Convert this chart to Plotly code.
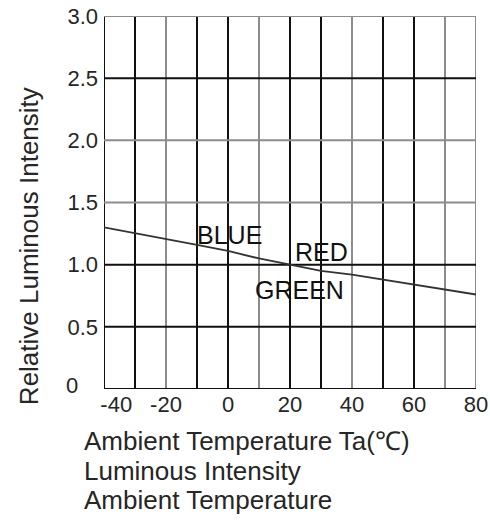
import plotly.graph_objects as go

# Data
temps = [-40, -30, -20, -10, 0, 10, 20, 30, 40, 50, 60, 70, 80]
rel_intensity = [1.30, 1.255, 1.21, 1.16, 1.11, 1.05, 1.00, 0.95, 0.92, 0.88, 0.84, 0.80, 0.76]

x_ticks = [-40, -20, 0, 20, 40, 60, 80]
x_tick_text = ["\u00a0\u00a0\u00a0\u00a0-40", "-20", "0", "20", "40", "60", "80"]
y_ticks = [0.5, 1.0, 1.5, 2.0, 2.5, 3.0]
y_tick_text = ["0.5", "1.0", "1.5", "2.0", "2.5", "3.0"]
y_zero_label = "0"

x_grid_dark = [-40, -30, -10, 0, 20, 30, 50, 60]
x_grid_light = [-20, 10, 40, 70, 80]
y_grid_dark = [0, 0.5, 1.0, 2.5]
y_grid_light = [1.5, 2.0, 3.0]

series_labels = ["BLUE", "RED", "GREEN"]
label_x = [0.6, 30.3, 23.2]
label_y = [1.24, 1.10, 0.80]

caption_lines = ["Ambient Temperature Ta(℃)", "Luminous Intensity", "Ambient Temperature"]

FONT = "Liberation Sans, Arial, sans-serif"
TXT = "#262626"

fig = go.Figure()
fig.add_trace(go.Scatter(x=temps, y=rel_intensity, mode="lines",
                         line=dict(color="#333333", width=1.8),
                         showlegend=False, hoverinfo="skip"))

shapes = []
for gx in x_grid_dark:
    shapes.append(dict(type="line", xref="x", yref="y", x0=gx, x1=gx, y0=0, y1=3,
                       line=dict(color="#111111", width=2), layer="below"))
for gx in x_grid_light:
    shapes.append(dict(type="line", xref="x", yref="y", x0=gx, x1=gx, y0=0, y1=3,
                       line=dict(color="#8c8c8c", width=2), layer="below"))
for gy in y_grid_dark:
    shapes.append(dict(type="line", xref="x", yref="y", x0=-40, x1=80, y0=gy, y1=gy,
                       line=dict(color="#111111", width=2), layer="below"))
for gy in y_grid_light:
    shapes.append(dict(type="line", xref="x", yref="y", x0=-40, x1=80, y0=gy, y1=gy,
                       line=dict(color="#8c8c8c", width=2), layer="below"))

annotations = []
for t, lx, ly in zip(series_labels, label_x, label_y):
    annotations.append(dict(x=lx, y=ly, xref="x", yref="y", text=t, showarrow=False,
                            font=dict(family=FONT, size=25, color="#111111"),
                            xanchor="center", yanchor="middle"))

caption_y = [-0.139, -0.219, -0.298]
for t, cy in zip(caption_lines, caption_y):
    annotations.append(dict(x=-0.059, y=cy, xref="paper", yref="paper", text=t,
                            showarrow=False, xanchor="left", yanchor="middle",
                            font=dict(family=FONT, size=26, color=TXT)))

annotations.append(dict(x=-0.2016, y=0.383, xref="paper", yref="paper",
                        text="Relative Luminous Intensity", textangle=-90,
                        showarrow=False, xanchor="center", yanchor="middle",
                        font=dict(family=FONT, size=26, color=TXT)))

# y-axis "0" label sits further left than the others in the reference
annotations.append(dict(x=-0.086, y=0.0107, xref="paper", yref="paper",
                        text=y_zero_label, showarrow=False, xanchor="center",
                        yanchor="middle", font=dict(family=FONT, size=22, color=TXT)))

fig.update_layout(
    width=490, height=522,
    margin=dict(l=104, r=14, t=16, b=133, autoexpand=False),
    paper_bgcolor="white", plot_bgcolor="white",
    shapes=shapes, annotations=annotations,
    font=dict(family=FONT, color=TXT),
)
fig.update_xaxes(range=[-40, 80], tickvals=x_ticks, ticktext=x_tick_text, showgrid=False,
                 zeroline=False, showline=False, ticks="", automargin=False,
                 tickfont=dict(family=FONT, size=22, color=TXT))
fig.update_yaxes(range=[0, 3], tickvals=y_ticks, ticktext=y_tick_text, showgrid=False,
                 zeroline=False, showline=False, ticks="", automargin=False,
                 ticklabelstandoff=5,
                 tickfont=dict(family=FONT, size=22, color=TXT))

fig.write_html("out.html", config={"displayModeBar": False},
               post_script="document.body.style.margin='0';document.body.style.overflow='hidden';")
